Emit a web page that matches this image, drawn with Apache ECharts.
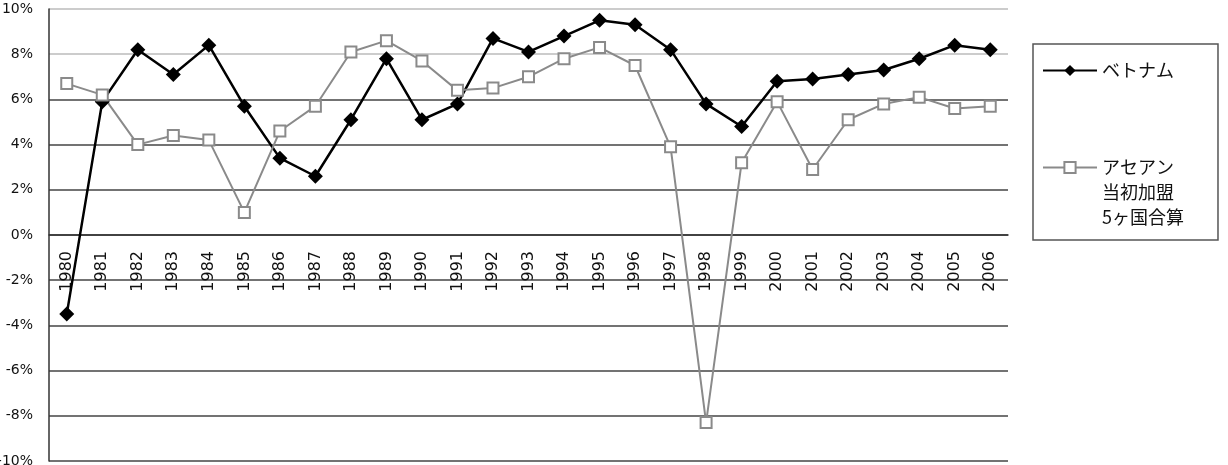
<!DOCTYPE html>
<html>
<head>
<meta charset="utf-8">
<script src="https://cdn.jsdelivr.net/npm/echarts@6/dist/echarts.min.js"></script>
<style>
    html, body { margin: 0; padding: 0; background: #fff; }
    #chart { width: 1228px; height: 465px; }
</style>
</head>
<body>
<div id="chart"></div>
<script>
const years = ['1980', '1981', '1982', '1983', '1984', '1985', '1986', '1987', '1988', '1989',
    '1990', '1991', '1992', '1993', '1994', '1995', '1996', '1997', '1998', '1999',
    '2000', '2001', '2002', '2003', '2004', '2005', '2006']

// 実質GDP成長率 (%)
const vietnam = [-3.5, 5.9, 8.2, 7.1, 8.4, 5.7, 3.4, 2.6, 5.1, 7.8,
    5.1, 5.8, 8.7, 8.1, 8.8, 9.5, 9.3, 8.2, 5.8, 4.8,
    6.8, 6.9, 7.1, 7.3, 7.8, 8.4, 8.2]

const asean5 = [6.7, 6.2, 4.0, 4.4, 4.2, 1.0, 4.6, 5.7, 8.1, 8.6,
    7.7, 6.4, 6.5, 7.0, 7.8, 8.3, 7.5, 3.9, -8.3, 3.2,
    5.9, 2.9, 5.1, 5.8, 6.1, 5.6, 5.7]

const seriesNames = ['ベトナム', 'アセアン\n当初加盟\n5ヶ国合算']

// -10% .. 10% の順、上の2本だけ薄い
const gridColors = ['#444', '#444', '#444', '#444', '#444', '#444',
    '#444', '#444', '#444', '#bbb', '#bbb']

const gridTop = 9
const gridBottom = 4
const chartHeight = 465

const chart = echarts.init(document.getElementById('chart'))

// x軸を0%の位置まで持ち上げる
const plotHeight = chartHeight - gridTop - gridBottom
const zeroOffset = -plotHeight / 2

const option = {
    animation: false,
    backgroundColor: '#fff',
    grid: { left: 49, right: 220, top: gridTop, bottom: gridBottom, outerBoundsMode: 'none', containLabel: false },
    legend: {
        orient: 'vertical',
        left: 1033,
        top: 44,
        padding: [14, 34, 10, 9],
        itemGap: 22,
        itemWidth: 54,
        itemHeight: 14,
        backgroundColor: '#fff',
        borderColor: '#555',
        borderWidth: 1.5,
        borderRadius: 0,
        selectedMode: false,
        formatter: (name) => name === seriesNames[1] ? ' \n \n' + name : name,
        textStyle: {
            fontFamily: 'Noto Sans CJK JP',
            fontSize: 18,
            lineHeight: 25,
            color: '#111'
        },
        data: seriesNames
    },
    xAxis: {
        type: 'category',
        data: years,
        boundaryGap: true,
        position: 'bottom',
        offset: zeroOffset,
        axisLine: { onZero: false, lineStyle: { color: '#333', width: 1.5 } },
        axisTick: { inside: true, length: 6, lineStyle: { color: '#333', width: 1 } },
        axisLabel: {
            rotate: 90,
            margin: 16,
            fontFamily: 'DejaVu Sans',
            fontSize: 16,
            color: '#111',
            interval: 0
        }
    },
    yAxis: {
        type: 'value',
        min: -10,
        max: 10,
        interval: 2,
        axisLine: { show: true, onZero: false, lineStyle: { color: '#333', width: 1.5 } },
        axisTick: { show: false },
        axisLabel: {
            formatter: '{value}%',
            margin: 16,
            fontFamily: 'DejaVu Sans',
            fontSize: 14,
            color: '#111'
        },
        splitLine: { lineStyle: { color: gridColors, width: 1.5 } }
    },
    series: [
        {
            name: seriesNames[0],
            type: 'line',
            data: vietnam,
            symbol: 'diamond',
            symbolSize: 15,
            lineStyle: { color: '#000', width: 2.5 },
            itemStyle: { color: '#000' }
        },
        {
            name: seriesNames[1],
            type: 'line',
            data: asean5,
            symbol: 'rect',
            symbolSize: 11,
            lineStyle: { color: '#8a8a8a', width: 2 },
            itemStyle: { color: '#fff', borderColor: '#8a8a8a', borderWidth: 2 }
        }
    ]
}

chart.setOption(option)
</script>
</body>
</html>
